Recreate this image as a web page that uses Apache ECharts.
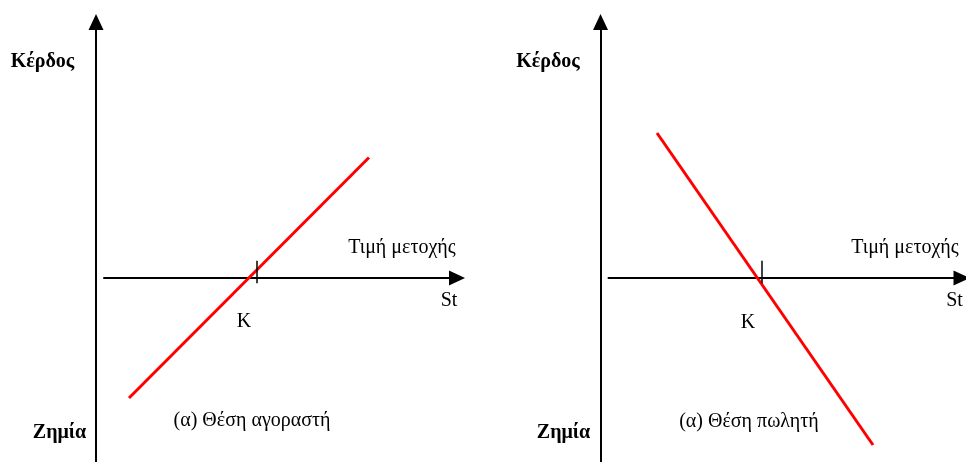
<!DOCTYPE html>
<html>
<head>
<meta charset="utf-8">
<style>
  html, body { margin: 0; padding: 0; background: #fff; }
  #main { width: 966px; height: 462px; }
</style>
<script src="https://cdn.jsdelivr.net/npm/echarts@6/dist/echarts.min.js"></script>
</head>
<body>
<div id="main"></div>
<script>
// payoff lines (x = share price, y = profit)
const buyerX = [2.5, 26.5];
const buyerY = [-12.0, 12.05];
const sellerX = [4.85, 26.45];
const sellerY = [14.5, -16.7];
const strikeK = 15.3;
const tickSpan = [-0.53, 1.73];

const labelProfit = 'Κέρδος';
const labelLoss = 'Ζημία';
const labelPrice = 'Τιμή μετοχής';
const labelSt = 'St';
const labelK = 'K';
const panelTitles = ['(α) Θέση αγοραστή', '(α) Θέση πωλητή'];

const chart = echarts.init(document.getElementById('main'), null, { renderer: 'canvas' });

const FONT = '"Liberation Serif", "Times New Roman", serif';

function pairs(xs, ys) {
  return xs.map((x, i) => [x, ys[i]]);
}

function xAx(gridIndex) {
  return {
    type: 'value', gridIndex: gridIndex, min: 0, max: 35.3,
    axisLine: {
      onZero: true,
      symbol: ['none', 'triangle'],
      symbolSize: [15, 16],
      lineStyle: { color: '#000', width: 2 }
    },
    axisTick: { show: false },
    axisLabel: { show: false },
    splitLine: { show: false }
  };
}

function yAx(gridIndex) {
  return {
    type: 'value', gridIndex: gridIndex, min: -18.4, max: 25.6,
    offset: 8,
    axisLine: {
      onZero: false,
      symbol: ['none', 'triangle'],
      symbolSize: [15, 16],
      lineStyle: { color: '#000', width: 2 }
    },
    axisTick: { show: false },
    axisLabel: { show: false },
    splitLine: { show: false }
  };
}

function payoff(idx, xs, ys) {
  return {
    type: 'line', xAxisIndex: idx, yAxisIndex: idx,
    data: pairs(xs, ys),
    symbol: 'none',
    lineStyle: { color: '#ff0000', width: 3 },
    silent: true,
    z: 3,
    markLine: {
      silent: true,
      symbol: ['none', 'none'],
      label: { show: false },
      lineStyle: { color: '#000', width: 1.5, type: 'solid' },
      data: [[{ coord: [strikeK, tickSpan[0]] }, { coord: [strikeK, tickSpan[1]] }]]
    }
  };
}

function txt(x, y, s, bold) {
  return {
    type: 'text', x: x, y: y, silent: true,
    style: {
      text: s, fill: '#000',
      font: (bold ? 'bold ' : '') + '20px ' + FONT,
      textAlign: 'center', textVerticalAlign: 'middle'
    }
  };
}

const option = {
  animation: false,
  backgroundColor: '#fff',
  grid: [
    { left: 104, width: 353, top: 22, bottom: 0 },
    { left: 608.5, width: 353, top: 22, bottom: 0 }
  ],
  xAxis: [xAx(0), xAx(1)],
  yAxis: [yAx(0), yAx(1)],
  series: [
    payoff(0, buyerX, buyerY),
    payoff(1, sellerX, sellerY)
  ],
  graphic: [
    txt(42.5, 62, labelProfit, true),
    txt(59.5, 433, labelLoss, true),
    txt(252, 421, panelTitles[0], false),
    txt(402, 248, labelPrice, false),
    txt(449, 300.5, labelSt, false),
    txt(244, 322, labelK, false),

    txt(548, 62, labelProfit, true),
    txt(563.5, 433, labelLoss, true),
    txt(749, 421.5, panelTitles[1], false),
    txt(905, 248, labelPrice, false),
    txt(954.5, 300.5, labelSt, false),
    txt(748, 323, labelK, false)
  ]
};

chart.setOption(option);
</script>
</body>
</html>
